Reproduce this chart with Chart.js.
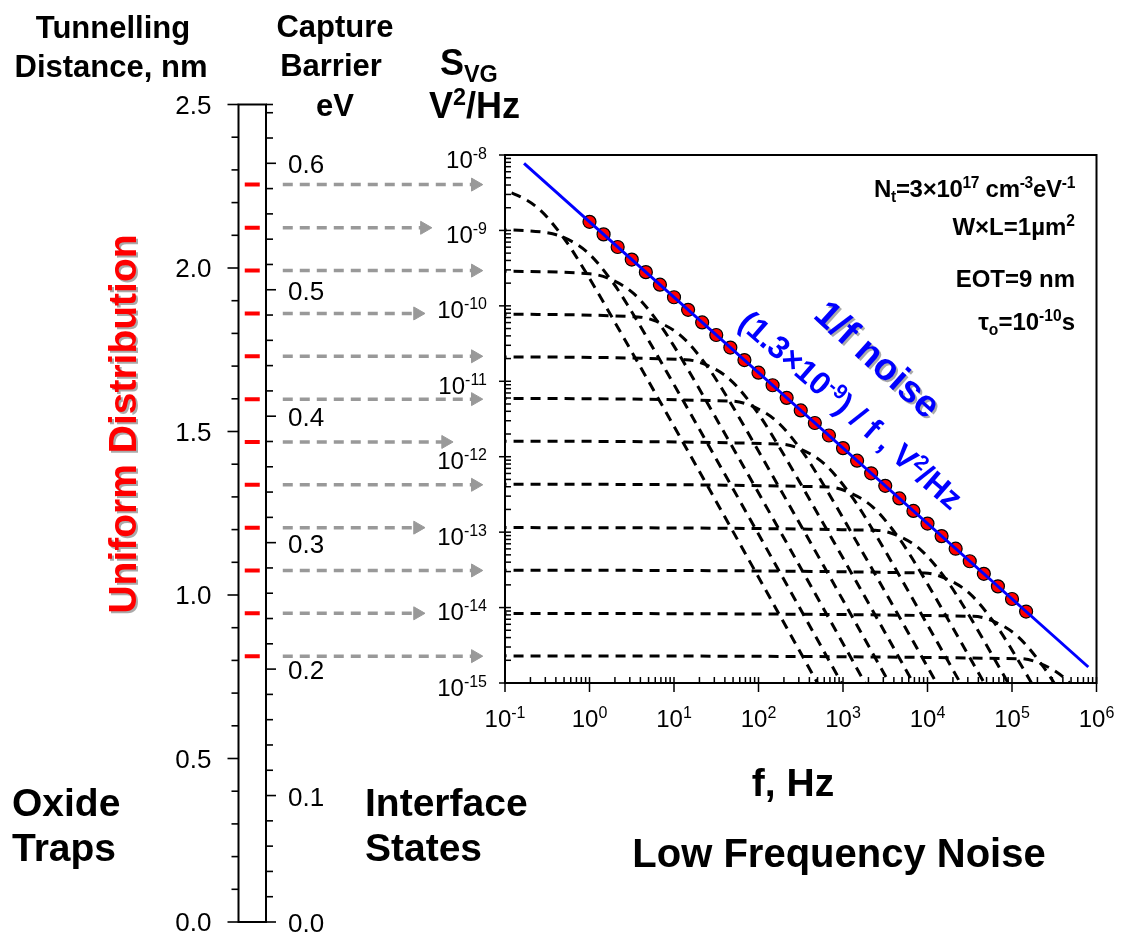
<!DOCTYPE html>
<html>
<head>
<meta charset="utf-8">
<title>Low Frequency Noise</title>
<script src="https://cdn.jsdelivr.net/npm/chart.js@4.4.1/dist/chart.umd.min.js"></script>
<style>
body{margin:0;background:#fff;}
#page{position:relative;width:1122px;height:940px;overflow:hidden;font-family:"Liberation Sans",Arial,Helvetica,sans-serif;}
#page canvas{position:absolute;left:0;top:0;}
.t{position:absolute;font-weight:bold;color:#000;white-space:nowrap;line-height:1;}
.c{transform:translateX(-50%);}
.r{text-align:right;}
.t sup{font-size:.65em;position:relative;top:-.55em;vertical-align:baseline;}
.t sub{font-size:.65em;position:relative;top:.3em;vertical-align:baseline;}
.shadow{position:absolute;left:0;top:0;width:1122px;height:940px;}
.rot{position:absolute;white-space:nowrap;line-height:1;font-weight:bold;}
</style>
</head>
<body>
<div id="page">
<canvas id="barChart" width="1122" height="940"></canvas>
<canvas id="noiseChart" width="1122" height="940"></canvas>

<div class="t c" style="left:113px;top:12px;font-size:31px">Tunnelling</div>
<div class="t c" style="left:111px;top:51px;font-size:31px">Distance, nm</div>
<div class="t c" style="left:335px;top:11px;font-size:31px">Capture</div>
<div class="t c" style="left:331px;top:50px;font-size:31px">Barrier</div>
<div class="t c" style="left:335px;top:90px;font-size:31px">eV</div>
<div class="t" style="left:440px;top:45px;font-size:36px">S<sub>VG</sub></div>
<div class="t" style="left:429px;top:88px;font-size:36px">V<sup>2</sup>/Hz</div>

<div class="t c" style="left:793px;top:763px;font-size:39px">f, Hz</div>
<div class="t c" style="left:839px;top:833px;font-size:40px">Low Frequency Noise</div>
<div class="t" style="left:12px;top:783px;font-size:39px">Oxide</div>
<div class="t" style="left:12px;top:828px;font-size:39px">Traps</div>
<div class="t" style="left:365px;top:783px;font-size:39px">Interface</div>
<div class="t" style="left:365px;top:828px;font-size:39px">States</div>

<div class="t r" style="right:47px;top:177px;font-size:24px;letter-spacing:-0.3px">N<sub>t</sub>=3×10<sup>17</sup> cm<sup>-3</sup>eV<sup>-1</sup></div>
<div class="t r" style="right:47px;top:215px;font-size:24px">W×L=1µm<sup>2</sup></div>
<div class="t r" style="right:47px;top:267px;font-size:24px">EOT=9 nm</div>
<div class="t r" style="right:47px;top:310px;font-size:24px">τ<sub>o</sub>=10<sup>-10</sup>s</div>

<div class="shadow" style="filter:drop-shadow(2px 2px 0 #aaa)">
  <div class="rot t" style="left:122px;top:424px;font-size:39px;color:#ff0000;transform:translate(-50%,-50%) rotate(-90deg)">Uniform Distribution</div>
  <div class="rot t" style="left:878px;top:359px;font-size:38px;color:#0000ff;transform:translate(-50%,-50%) rotate(42deg)">1/f noise</div>
</div>
<div class="rot t" style="left:851px;top:410px;font-size:32px;color:#0000ff;transform:translate(-50%,-50%) rotate(41deg)">(1.3×10<sup>-9</sup>) / f , V<sup>2</sup>/Hz</div>
</div>

<script>
// ---- values ----

// tunnelling distance (nm) of each trap: red marks in the bar and grey arrows
const trapDepth=[2.255,2.123,1.992,1.861,1.730,1.599,1.468,1.337,1.206,1.075,0.944,0.813];
// arrows: start and end along the (unitless) bar axis, bar = 0..1
const arrowStart=1.61;
const arrowReach=[8.61,6.76,8.61,6.51,8.61,8.61,7.53,8.61,6.51,8.61,6.51,8.61];

// summed spectrum (red dots)
const sumFreq=[1,1.468,2.154,3.162,4.642,6.813,10,14.68,21.54,31.62,46.42,68.13,100,146.8,215.4,316.2,
  464.2,681.3,1000,1468,2154,3162,4642,6813,10000,14680,21540,31620,46420,68130,100000,146800];
const sumNoise=[1.3e-9,8.86e-10,6.03e-10,4.11e-10,2.80e-10,1.91e-10,1.3e-10,8.86e-11,6.03e-11,4.11e-11,2.80e-11,1.91e-11,
  1.3e-11,8.86e-12,6.03e-12,4.11e-12,2.80e-12,1.91e-12,1.3e-12,8.86e-13,6.03e-13,4.11e-13,2.80e-13,1.91e-13,
  1.3e-13,8.86e-14,6.03e-14,4.11e-14,2.80e-14,1.91e-14,1.3e-14,8.86e-15];

// 1/f fit line (blue)
const fitFreq=[0.168,8.0e5];
const fitNoise=[7.74e-9,1.63e-15];

// single trap Lorentzians (dashed), [f, S] points
const trapCurves=[
  [[0.05,3.68e-9],[0.0762,3.50e-9],[0.127,3.06e-9],[0.254,1.91e-9],[0.508,7.64e-10],[0.762,3.82e-10],[2.54,3.78e-11],[2539,3.82e-17]],
  [[0.05,1.035e-9],[0.281,9.49e-10],[0.469,8.28e-10],[0.937,5.18e-10],[1.874,2.07e-10],[2.81,1.035e-10],[9.37,1.025e-11],[9372,1.035e-17]],
  [[0.05,2.90e-10],[1.004,2.66e-10],[1.673,2.32e-10],[3.345,1.45e-10],[6.69,5.80e-11],[10.04,2.90e-11],[33.45,2.87e-12],[33450,2.90e-18]],
  [[0.05,7.78e-11],[3.74,7.13e-11],[6.24,6.22e-11],[12.47,3.89e-11],[24.94,1.556e-11],[37.4,7.78e-12],[124.7,7.70e-13],[124700,7.78e-19]],
  [[0.05,2.11e-11],[13.79,1.935e-11],[22.99,1.688e-11],[45.97,1.055e-11],[91.9,4.22e-12],[137.9,2.11e-12],[459.7,2.09e-13],[459700,2.11e-19]],
  [[0.05,5.93e-12],[49.1,5.44e-12],[81.8,4.74e-12],[163.6,2.965e-12],[327.2,1.186e-12],[490.8,5.93e-13],[1636,5.87e-14],[1.636e6,5.93e-20]],
  [[0.05,1.61e-12],[180.8,1.476e-12],[301.3,1.288e-12],[602.5,8.05e-13],[1205,3.22e-13],[1808,1.61e-13],[6025,1.594e-14],[6.025e6,1.61e-20]],
  [[0.05,4.33e-13],[672,3.97e-13],[1120,3.46e-13],[2240,2.165e-13],[4480,8.66e-14],[6720,4.33e-14],[22400,4.29e-15],[2.24e7,4.33e-21]],
  [[0.05,1.15e-13],[2531,1.055e-13],[4218,9.20e-14],[8435,5.75e-14],[16870,2.30e-14],[25305,1.15e-14],[84350,1.139e-15],[8.435e7,1.15e-21]],
  [[0.05,3.13e-14],[9297,2.87e-14],[15495,2.50e-14],[30990,1.565e-14],[61980,6.26e-15],[92970,3.13e-15],[309900,3.10e-16],[3.099e8,3.13e-22]],
  [[0.05,8.36e-15],[34809,7.67e-15],[58015,6.69e-15],[116030,4.18e-15],[232060,1.672e-15],[348090,8.36e-16],[1.16e6,8.28e-17],[1.16e9,8.36e-23]],
  [[0.05,2.29e-15],[127074,2.10e-15],[211790,1.832e-15],[423580,1.145e-15],[847160,4.58e-16],[1.27e6,2.29e-16],[4.24e6,2.27e-17],[4.24e9,2.29e-23]]
];

// tick labels
const freqExp=[-1,0,1,2,3,4,5,6];
const noiseExp=[-15,-14,-13,-12,-11,-10,-9,-8];
const distLabels=[0,0.5,1,1.5,2,2.5];
const barrierLabels=[0,0.1,0.2,0.3,0.4,0.5,0.6];

// ---- helpers ----
const FONT='"Liberation Sans", Arial, Helvetica, sans-serif';
function tick(ctx,x1,y1,x2,y2){ ctx.beginPath(); ctx.moveTo(x1,y1); ctx.lineTo(x2,y2); ctx.stroke(); }
function powLabel(ctx,x,y,e,align){
  const sup=String(e);
  ctx.font='24px '+FONT; const w1=ctx.measureText('10').width;
  ctx.font='16px '+FONT; const w2=ctx.measureText(sup).width;
  const x0=align==='right' ? x-w1-w2 : x-(w1+w2)/2;
  ctx.textAlign='left';
  ctx.font='24px '+FONT; ctx.fillText('10',x0,y);
  ctx.font='16px '+FONT; ctx.fillText(sup,x0+w1,y-9);
}

// bar + both left axes
const barAxes={
  id:'barAxes',
  afterDraw(chart){
    const {ctx,scales:{x,yDist,yBar}}=chart;
    const l=x.getPixelForValue(0), r=x.getPixelForValue(1);
    const top=yDist.getPixelForValue(2.5), bot=yDist.getPixelForValue(0);
    ctx.save();
    ctx.strokeStyle='#000'; ctx.fillStyle='#000';
    ctx.lineWidth=2;
    ctx.strokeRect(l,top,r-l,bot-top);
    ctx.lineWidth=1.6;
    for(let i=0;i<=25;i++){
      const y=yDist.getPixelForValue(i/10);
      tick(ctx,l,y,l-(i%5===0?11:7),y);
    }
    for(let i=0;i<=32;i++){
      const y=yBar.getPixelForValue(i*0.02);
      tick(ctx,r,y,r+(i%5===0?10:7),y);
    }
    tick(ctx,r,top,r+7,top);
    ctx.font='26px '+FONT;
    ctx.textAlign='right';
    distLabels.forEach(v=>ctx.fillText(v.toFixed(1),l-27,yDist.getPixelForValue(v)+9));
    ctx.textAlign='left';
    barrierLabels.forEach(v=>ctx.fillText(v.toFixed(1),r+22,yBar.getPixelForValue(v)+10));
    ctx.restore();
  }
};

// frame, ticks and power-of-ten labels of the noise plot
const noiseAxes={
  id:'noiseAxes',
  afterDraw(chart){
    const {ctx,chartArea:a,scales:{x,y}}=chart;
    ctx.save();
    ctx.strokeStyle='#000'; ctx.fillStyle='#000';
    ctx.lineWidth=2;
    ctx.strokeRect(a.left,a.top,a.right-a.left,a.bottom-a.top);
    ctx.lineWidth=1.5;
    freqExp.forEach((e,i)=>{
      const px=x.getPixelForValue(Math.pow(10,e));
      tick(ctx,px,a.bottom-6,px,a.bottom+9);
      if(i<freqExp.length-1) for(let k=2;k<10;k++){
        const m=x.getPixelForValue(k*Math.pow(10,e));
        tick(ctx,m,a.bottom-6,m,a.bottom);
      }
      powLabel(ctx,px,a.bottom+44,e,'center');
    });
    noiseExp.forEach((e,i)=>{
      const py=y.getPixelForValue(Math.pow(10,e));
      tick(ctx,a.left-6,py,a.left+6,py);
      if(i<noiseExp.length-1) for(let k=2;k<10;k++){
        const m=y.getPixelForValue(k*Math.pow(10,e));
        tick(ctx,a.left,m,a.left+6,m);
      }
      powLabel(ctx,a.left-18,py+12.5,e,'right');
    });
    ctx.restore();
  }
};

// ---- left: trap depth bar with arrows ----
new Chart(document.getElementById('barChart'),{
  type:'line',
  data:{datasets:[
    {label:'traps',data:trapDepth.map(d=>({x:0.5,y:d})),showLine:false,yAxisID:'yDist',
     pointStyle:'line',pointRadius:7.5,pointBorderWidth:4,pointBorderColor:'#ff0000',borderColor:'#ff0000'},
    ...trapDepth.map((d,i)=>({label:'arrow '+(i+1),yAxisID:'yDist',
      data:[{x:arrowStart,y:d},{x:arrowReach[i],y:d}],
      borderColor:'#999',borderWidth:3.5,borderDash:[10,7],
      pointStyle:'triangle',pointRotation:90,pointRadius:[0,7.5],
      pointBackgroundColor:'#999',pointBorderColor:'#999',pointBorderWidth:1}))
  ]},
  options:{
    responsive:false,animation:false,devicePixelRatio:1,
    layout:{padding:{left:238.5,right:608.5,top:104.5,bottom:18}},
    scales:{
      x:{type:'linear',min:0,max:10,display:false},
      yDist:{type:'linear',min:0,max:2.5,display:false},
      yBar:{type:'linear',min:0,max:0.6465,display:false}
    },
    plugins:{legend:{display:false},tooltip:{enabled:false}}
  },
  plugins:[barAxes]
});

// ---- right: noise spectra ----
new Chart(document.getElementById('noiseChart'),{
  type:'line',
  data:{datasets:[
    {label:'1/f',data:fitFreq.map((f,i)=>({x:f,y:fitNoise[i]})),borderColor:'#0000ff',borderWidth:3,pointRadius:0,order:0},
    {label:'sum',data:sumFreq.map((f,i)=>({x:f,y:sumNoise[i]})),showLine:false,pointRadius:6.5,
     pointBackgroundColor:'#ff0000',pointBorderColor:'#000',pointBorderWidth:1.2,order:1},
    ...trapCurves.map((c,i)=>({label:'trap '+(i+1),data:c.map(p=>({x:p[0],y:p[1]})),
      borderColor:'#000',borderWidth:3,borderDash:[10,7],pointRadius:0,cubicInterpolationMode:'monotone',order:2}))
  ]},
  options:{
    responsive:false,animation:false,devicePixelRatio:1,
    layout:{padding:{left:505,right:25.5,top:155,bottom:257}},
    scales:{
      x:{type:'logarithmic',min:0.1,max:1e6,display:false},
      y:{type:'logarithmic',min:1e-15,max:1e-8,display:false}
    },
    plugins:{legend:{display:false},tooltip:{enabled:false}}
  },
  plugins:[noiseAxes]
});
</script>
</body>
</html>
